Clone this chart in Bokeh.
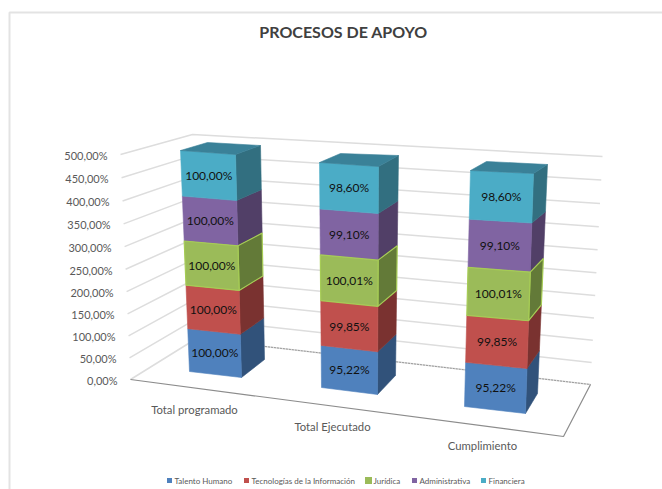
from bokeh.plotting import figure
from bokeh.models import Range1d
from bokeh.core.properties import value
from bokeh.embed import file_html
from bokeh.resources import INLINE

TITLE = "PROCESOS DE APOYO"
categories = ["Total programado", "Total Ejecutado", "Cumplimiento"]
series_names = ["Talento Humano", "Tecnologías de la Información", "Jurídica", "Administrativa", "Financiera"]
talento = [100.00, 95.22, 95.22]
tecnologias = [100.00, 99.85, 99.85]
juridica = [100.00, 100.01, 100.01]
administrativa = [100.00, 99.10, 99.10]
financiera = [100.00, 98.60, 98.60]
ticks = [0, 50, 100, 150, 200, 250, 300, 350, 400, 450, 500]

series = [talento, tecnologias, juridica, administrativa, financiera]
front_col = ["#4F81BD", "#C0504D", "#9BBB59", "#8064A2", "#4BACC6"]
side_col = ["#31527A", "#7A3230", "#637A38", "#513F67", "#326F80"]
top_col = "#3A8198"
GLOW = "#A6CC55"

W, H = 662, 489
k = 0.04  # slight perspective of the height axis


def f(t):
    return t / (1 + k - k * t)


def lerp(a, b, t):
    return (a[0] + (b[0] - a[0]) * t, a[1] + (b[1] - a[1]) * t)


# 3-D box frame on the page
WALL_FL0, WALL_FL1 = (130, 379), (120, 154)
WALL_BL0, WALL_BL1 = (196, 338), (192, 134)
WALL_BR0, WALL_BR1 = (590, 384), (602, 156)
FLOOR_FR = (563, 436)

# column boxes on the page: base (fl, fr, br, bl) / top (fl, fr, br, bl)
col_base = [
    [(189, 371), (241, 377), (264, 359), (213, 353)],
    [(321, 387), (377, 394), (395, 375), (340, 368)],
    [(464, 406), (525, 413), (537, 393), (480, 386)],
]
col_top = [
    [(180, 150), (235, 154), (260, 145), (207, 142)],
    [(319, 162), (378, 166), (398, 155), (340, 153)],
    [(470, 170), (533, 173), (547, 164), (486, 161)],
]

p = figure(width=W, height=H, x_range=Range1d(0, W), y_range=Range1d(H, 0),
           toolbar_location=None, output_backend="svg", min_border=0,
           background_fill_color="white", border_fill_color="white")
p.axis.visible = False
p.grid.visible = False
p.outline_line_color = None

# chart frame
p.line([9, 9, W], [H, 12, 12], line_color="#E3E3E3", line_width=2)

# grid lines on the side and back walls
GRID = "#DDDDDD"
for tk in ticks:
    t = f(tk / ticks[-1])
    a, b, c = lerp(WALL_FL0, WALL_FL1, t), lerp(WALL_BL0, WALL_BL1, t), lerp(WALL_BR0, WALL_BR1, t)
    p.line([a[0], b[0], c[0]], [a[1], b[1], c[1]], line_color=GRID, line_width=1.5)

# floor
p.line([WALL_BL0[0], WALL_BR0[0]], [WALL_BL0[1], WALL_BR0[1]], line_color="#9A9A9A", line_width=1, line_dash="2 1")
p.line([WALL_FL0[0], FLOOR_FR[0], WALL_BR0[0]], [WALL_FL0[1], FLOOR_FR[1], WALL_BR0[1]],
       line_color="#8C8C8C", line_width=1.2)


def quad(pts, fill, line=None, width=0.6):
    p.patch([q[0] for q in pts], [q[1] for q in pts], fill_color=fill,
            line_color=line or fill, line_width=width)


labels = []
for ci in range(len(categories)):
    base, top = col_base[ci], col_top[ci]
    total = sum(s[ci] for s in series)
    ranges = []
    cum = 0.0
    for s in series:
        ranges.append((cum, cum + s[ci]))
        cum += s[ci]
    order = [0, 1, 3, 4, 2]  # the highlighted series is painted last
    for si in order:
        lo, hi = ranges[si]
        t0, t1 = f(lo / total), f(hi / total)
        fl0, fl1 = lerp(base[0], top[0], t0), lerp(base[0], top[0], t1)
        fr0, fr1 = lerp(base[1], top[1], t0), lerp(base[1], top[1], t1)
        br0, br1 = lerp(base[2], top[2], t0), lerp(base[2], top[2], t1)
        glow = GLOW if si == 2 else None
        lw = 1.2 if si == 2 else 0.6
        quad([fr0, br0, br1, fr1], side_col[si], glow, lw)
        quad([fl0, fr0, fr1, fl1], front_col[si], glow, lw)
        labels.append(((fl0[0] + fr0[0] + fl1[0] + fr1[0]) / 4,
                       (fl0[1] + fr0[1] + fl1[1] + fr1[1]) / 4,
                       f"{series[si][ci]:.2f}%".replace(".", ",")))
    quad(top, top_col)

p.text([q[0] for q in labels], [q[1] for q in labels], text=[q[2] for q in labels],
       text_font=value("Lato"), text_font_size="12px", text_color="#111111",
       text_align="center", text_baseline="middle")

# value axis labels
tx, ty, tt = [], [], []
for tk in ticks:
    a = lerp(WALL_FL0, WALL_FL1, f(tk / ticks[-1]))
    tx.append(a[0] - 13)
    ty.append(a[1] + 1)
    tt.append(f"{tk:.2f}%".replace(".", ","))
p.text(tx, ty, text=tt, text_font=value("Lato"), text_font_size="11px", text_color="#595959",
       text_align="right", text_baseline="middle")

# category labels
cat_x = [194, 332, 482]
cat_y = [409, 426, 445]
p.text(cat_x, cat_y, text=categories, text_font=value("Lato"), text_font_size="11.3px",
       text_color="#595959", text_align="center", text_baseline="middle")

# title
p.text([343], [31], text=[TITLE], text_font=value("Lato"), text_font_size="16px",
       text_font_style="bold", text_color="#404040", text_align="center", text_baseline="middle")

# legend
LEG_Y = 480
leg_sq = [169, 246, 368, 414, 483]
leg_size = [5, 5, 7, 5, 5]
p.scatter(leg_sq, [LEG_Y] * 5, marker="square", size=leg_size, fill_color=front_col, line_color=None)
p.text([x + 5 for x in leg_sq], [LEG_Y] * 5, text=series_names, text_font=value("Lato"),
       text_font_size="8px", text_color="#595959", text_align="left", text_baseline="middle")

open("out.html", "w").write(file_html(p, INLINE))
